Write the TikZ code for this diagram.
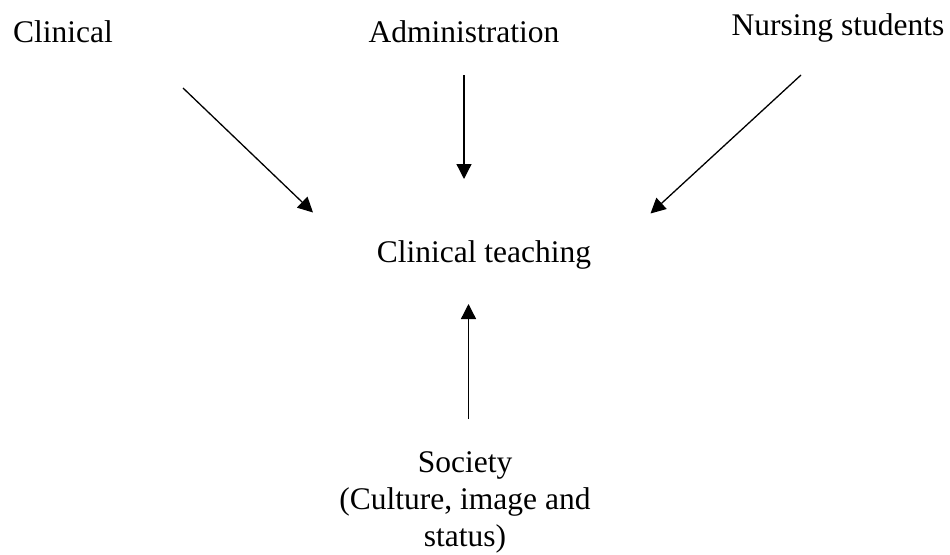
\documentclass[tikz,border=0pt]{standalone}
\usepackage{fontspec}
\setmainfont{Liberation Serif}
\usetikzlibrary{arrows.meta}
\begin{document}
\begin{tikzpicture}[x=1pt,y=-1pt,
  lbl/.style={inner sep=0pt, anchor=base, font=\fontsize{31.5}{37}\selectfont, align=center},
  arr/.style={line width=1.3pt, -{Triangle[length=15pt,width=15pt]}}]
\useasboundingbox (0,0) rectangle (950,554);
\node[lbl] (clin) at (63,42.5) {Clinical};
\node[lbl] (admin) at (464,42.5) {Administration};
\node[lbl] (nurs) at (838,35) {Nursing students};
\node[lbl] (teach) at (484,262.5) {Clinical teaching};
\node[lbl] (soc) at (465,546) {Society\\(Culture, image and\\status)};
\coordinate (c1) at (183,88);   \coordinate (c1e) at (313,212.5);
\coordinate (a1) at (464,75);   \coordinate (a1e) at (464,179);
\coordinate (n1) at (801,75);   \coordinate (n1e) at (650.5,213.5);
\coordinate (s1) at (468.5,419); \coordinate (s1e) at (468.5,304);
\draw[arr] (c1) -- (c1e);
\draw[arr] (a1) -- (a1e);
\draw[arr] (n1) -- (n1e);
\draw[arr] (s1) -- (s1e);
\end{tikzpicture}
\end{document}
